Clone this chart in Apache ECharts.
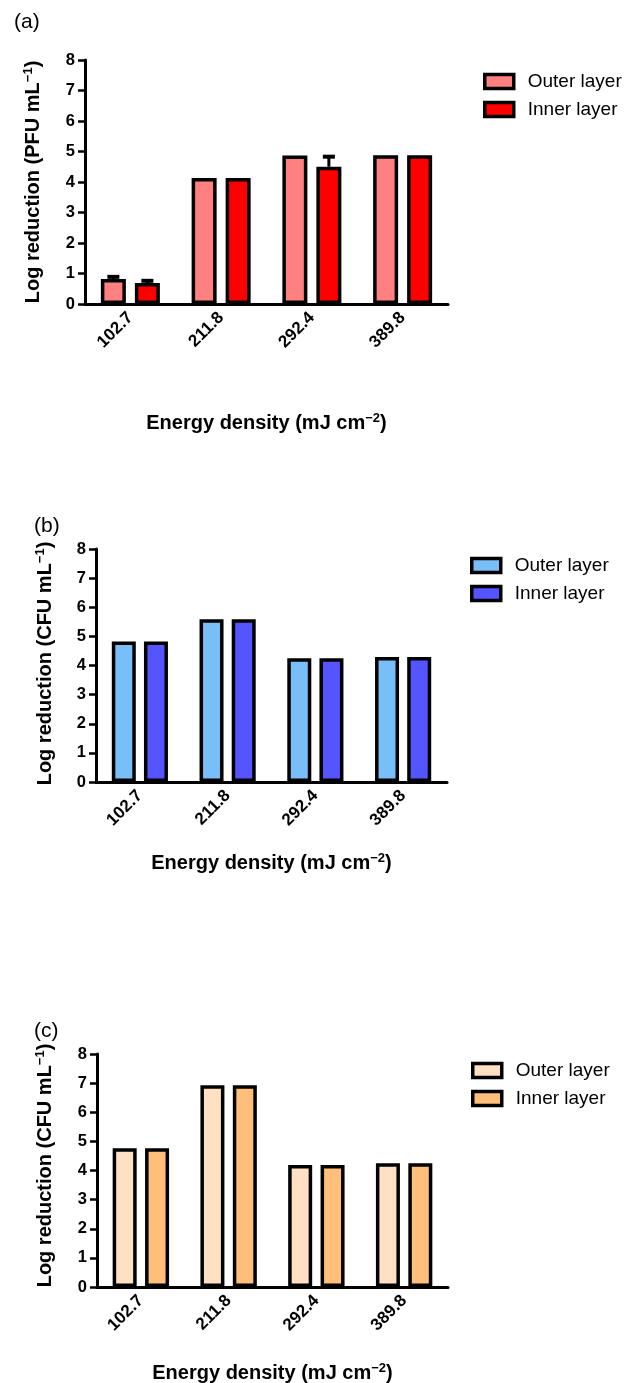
<!DOCTYPE html>
<html>
<head>
<meta charset="utf-8">
<script src="https://cdn.jsdelivr.net/npm/echarts@6/dist/echarts.min.js"></script>
<style>
  html, body { margin: 0; padding: 0; background: #fff; }
  #chart { width: 624px; height: 1383px; }
</style>
</head>
<body>
<div id="chart"></div>
<script>
  // energy densities (x categories)
  const categories = ['102.7', '211.8', '292.4', '389.8'];

  // (a) PFU, with upward error bars
  const outerA = [0.82, 4.13, 4.87, 4.88];
  const innerA = [0.69, 4.13, 4.50, 4.88];
  const outerErrA = [0.07, 0, 0, 0];
  const innerErrA = [0.07, 0, 0.33, 0];

  // (b) CFU
  const outerB = [4.82, 5.59, 4.25, 4.29];
  const innerB = [4.82, 5.59, 4.25, 4.29];

  // (c) CFU
  const outerC = [4.76, 6.93, 4.19, 4.25];
  const innerC = [4.76, 6.93, 4.19, 4.25];

  const FONT = '"Liberation Sans", Arial, Helvetica, sans-serif';

  const panels = [
    { tag: '(a)', unit: 'PFU', outer: outerA, inner: innerA, errOuter: outerErrA, errInner: innerErrA,
      colors: ['#FF8080', '#FF0000'],
      grid: { left: 85, top: 60, width: 363, height: 244 }, barWidth: 25, barGap: 0.36,
      title: { left: 14, top: 12 }, legend: { left: 483, top: 72 },
      yGap: 40, yShift: 0, xGap: 108 },
    { tag: '(b)', unit: 'CFU', outer: outerB, inner: innerB,
      colors: ['#78BEF8', '#5555FF'],
      grid: { left: 96, top: 549, width: 351, height: 233 }, barWidth: 24, barGap: 0.34,
      title: { left: 34, top: 516 }, legend: { left: 470, top: 556 },
      yGap: 39, yShift: 2, xGap: 70 },
    { tag: '(c)', unit: 'CFU', outer: outerC, inner: innerC,
      colors: ['#FFE0C2', '#FFBF7A'],
      grid: { left: 97, top: 1054, width: 351, height: 233 }, barWidth: 24, barGap: 0.35,
      title: { left: 34, top: 1021 }, legend: { left: 471, top: 1061 },
      yGap: 40, yShift: 5, xGap: 75 }
  ];

  const supRich = {
    sup: { fontSize: 13, fontWeight: 'bold', color: '#000', fontFamily: FONT, padding: [0, 0, 10, 0] }
  };

  const option = {
    animation: false,
    backgroundColor: '#fff',
    textStyle: { fontFamily: FONT, color: '#000' },
    title: [],
    legend: [],
    grid: [],
    xAxis: [],
    yAxis: [],
    series: []
  };

  panels.forEach((p, i) => {
    const names = ['Outer layer ' + p.tag, 'Inner layer ' + p.tag];

    option.title.push({
      text: p.tag, left: p.title.left, top: p.title.top, padding: 0,
      textStyle: { fontSize: 21, fontWeight: 'normal', color: '#000', fontFamily: FONT }
    });

    option.legend.push({
      orient: 'vertical',
      left: p.legend.left, top: p.legend.top, padding: 0,
      itemWidth: 29, itemHeight: 14, itemGap: 9,
      icon: 'rect',
      itemStyle: { borderColor: '#000', borderWidth: 3.5 },
      textStyle: { fontSize: 19, color: '#000', fontFamily: FONT, padding: [0, 0, 0, 9] },
      formatter: n => n.replace(/ \(.\)$/, ''),
      data: names
    });

    option.grid.push(Object.assign({ containLabel: false, outerBoundsMode: 'none' }, p.grid));

    option.xAxis.push({
      type: 'category', gridIndex: i, data: categories,
      axisLine: { lineStyle: { color: '#000', width: 3 } },
      axisTick: { alignWithLabel: true, length: 7, lineStyle: { color: '#000', width: 2.5 } },
      axisLabel: { rotate: 45, margin: 11, fontSize: 17, fontWeight: 'bold', color: '#000', fontFamily: FONT },
      name: 'Energy density (mJ cm{sup|\u22122})',
      nameLocation: 'middle', nameGap: p.xGap,
      nameTextStyle: { fontSize: 20, fontWeight: 'bold', color: '#000', fontFamily: FONT, rich: supRich }
    });

    option.yAxis.push({
      type: 'value', gridIndex: i, min: 0, max: 8, interval: 1,
      splitLine: { show: false },
      axisLine: { show: true, lineStyle: { color: '#000', width: 3 } },
      axisTick: { show: true, length: 7, lineStyle: { color: '#000', width: 2.5 } },
      axisLabel: { margin: 10, fontSize: 16.5, fontWeight: 'bold', color: '#000', fontFamily: FONT },
      name: 'Log reduction (' + p.unit + ' mL{sup|\u22121})',
      nameLocation: 'middle', nameRotate: 90, nameGap: p.yGap,
      nameTextStyle: { fontSize: 20, fontWeight: 'bold', color: '#000', fontFamily: FONT, rich: supRich,
        padding: [0, 0, 0, p.yShift * 2] }
    });

    [p.outer, p.inner].forEach((vals, k) => {
      option.series.push({
        name: names[k], type: 'bar', xAxisIndex: i, yAxisIndex: i,
        data: vals,
        barWidth: p.barWidth, barGap: (p.barGap * 100) + '%',
        itemStyle: { color: p.colors[k], borderColor: '#000', borderWidth: 3.5 }
      });
    });

    // upward error bars, placed on the bar centres
    if (p.errOuter) {
      const shift = (p.barWidth + p.barWidth * p.barGap) / 2;
      [[p.outer, p.errOuter, -shift], [p.inner, p.errInner, shift]].forEach(([vals, errs, off]) => {
        option.series.push({
          type: 'custom', xAxisIndex: i, yAxisIndex: i, z: 3,
          data: vals.map((v, j) => [j, v, errs[j]]),
          renderItem: (params, api) => {
            const e = api.value(2);
            if (!e) return null;
            const base = api.coord([api.value(0), api.value(1)]);
            const top = api.coord([api.value(0), api.value(1) + e]);
            const x = base[0] + off;
            return {
              type: 'group',
              children: [
                { type: 'line', shape: { x1: x, y1: base[1], x2: x, y2: top[1] }, style: { stroke: '#000', lineWidth: 3 } },
                { type: 'line', shape: { x1: x - 6, y1: top[1], x2: x + 6, y2: top[1] }, style: { stroke: '#000', lineWidth: 4 } }
              ]
            };
          }
        });
      });
    }
  });

  const chart = echarts.init(document.getElementById('chart'), null, { renderer: 'canvas' });
  chart.setOption(option);
</script>
</body>
</html>
